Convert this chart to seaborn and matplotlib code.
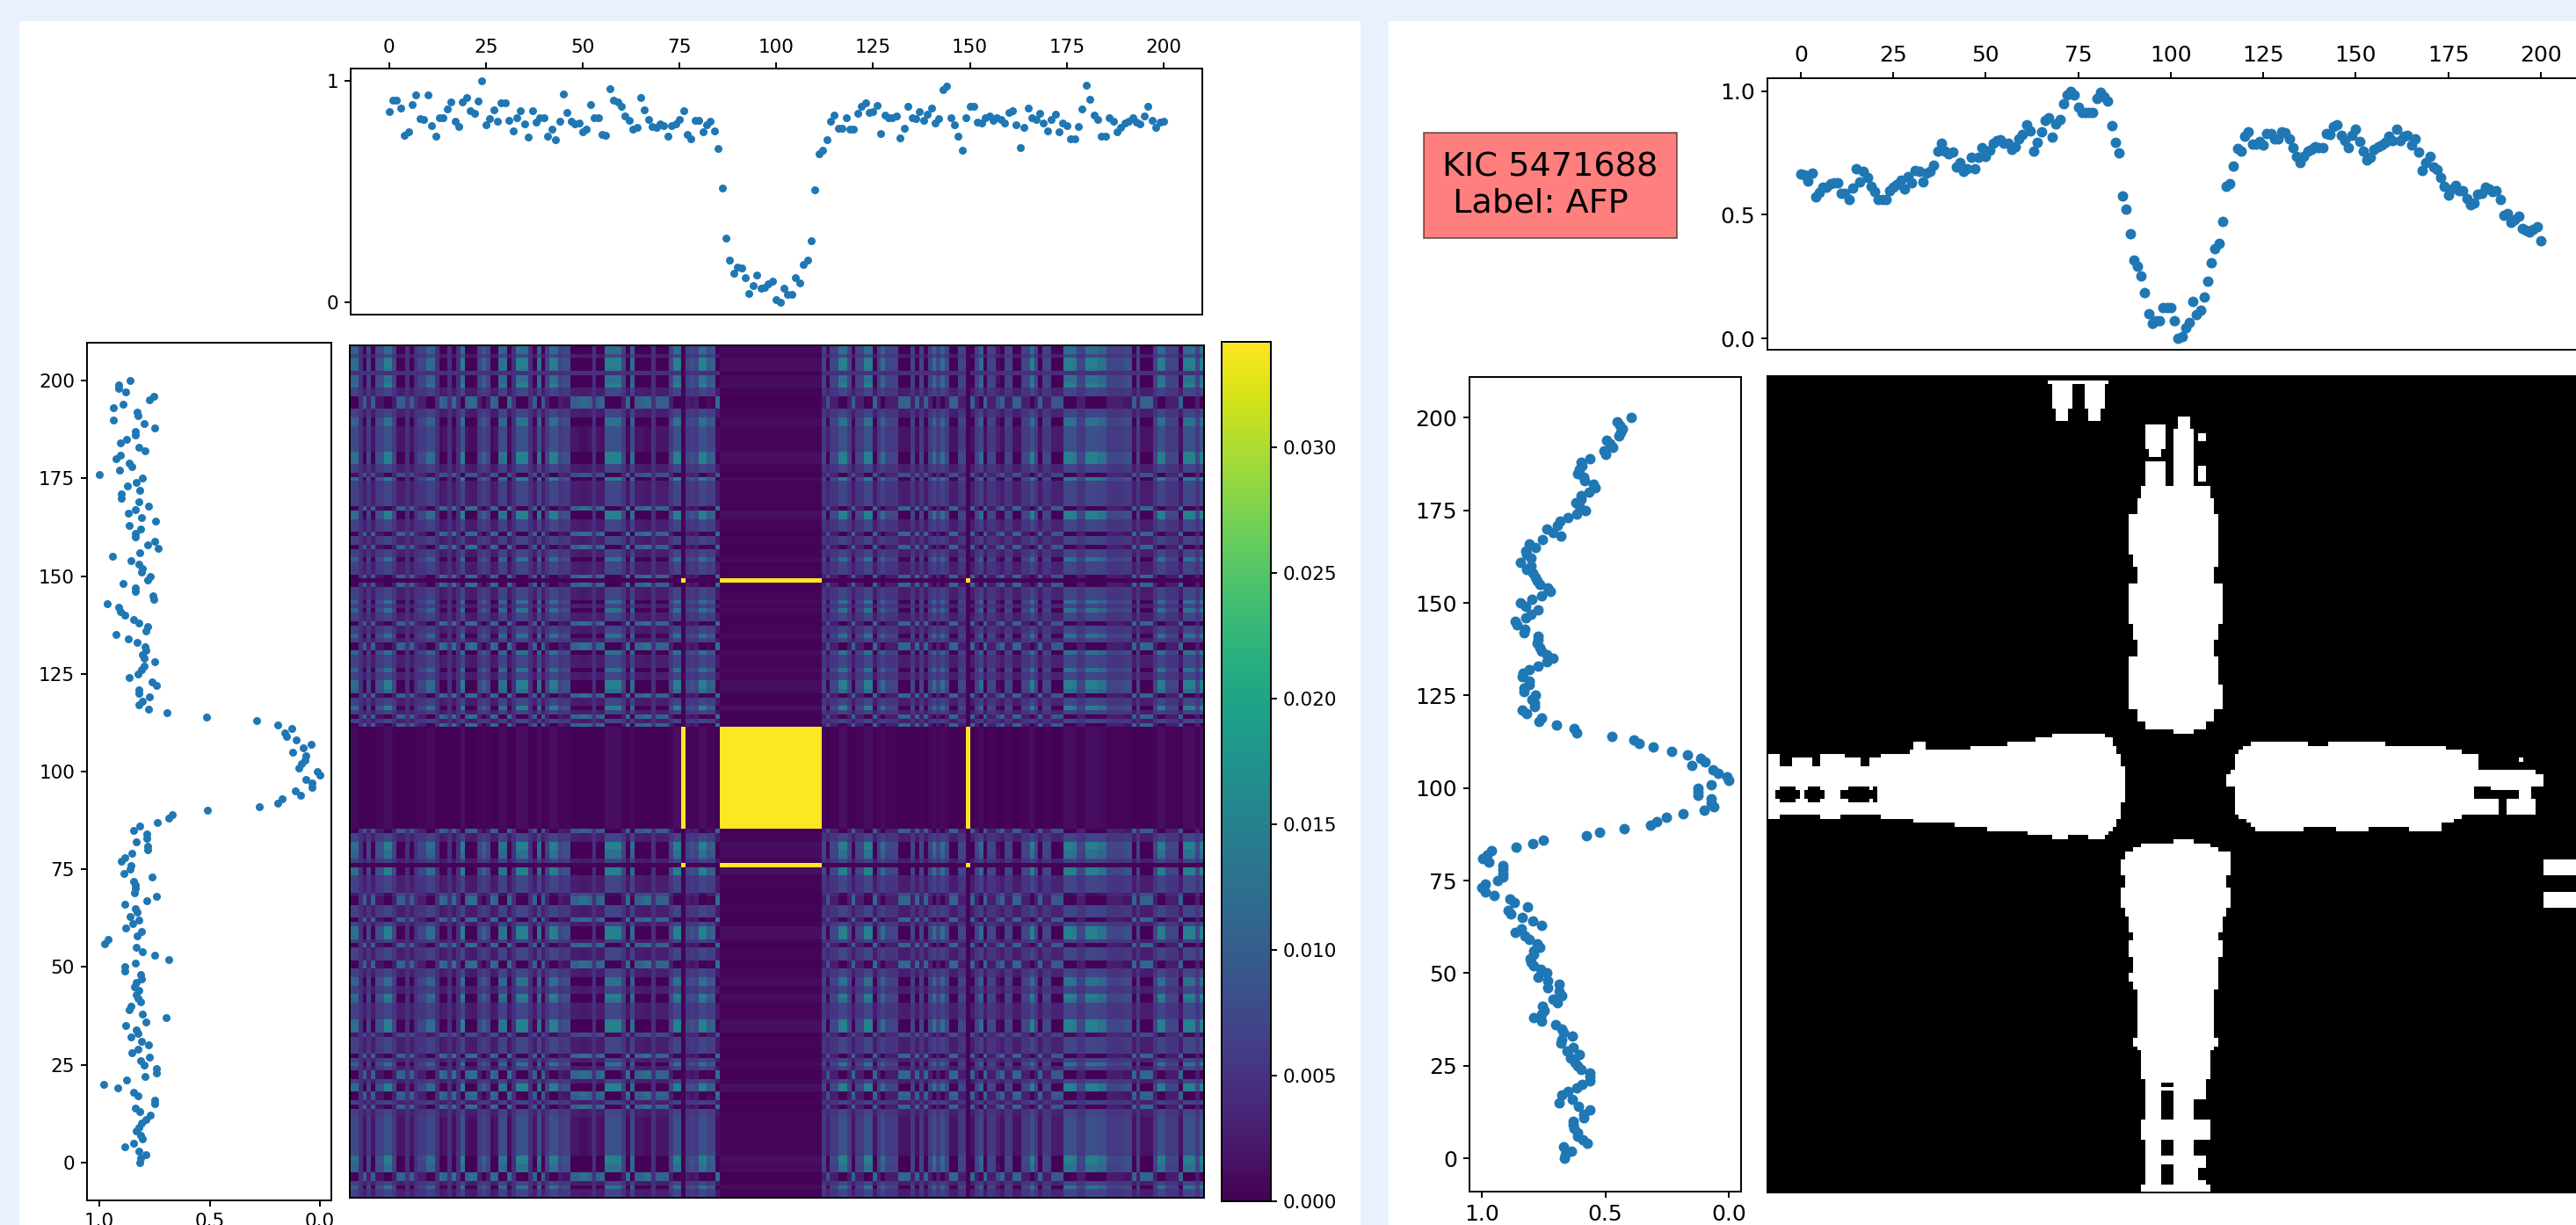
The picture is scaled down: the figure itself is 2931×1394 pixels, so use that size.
import numpy as np
import pandas as pd
import matplotlib
matplotlib.use("Agg")
import matplotlib.pyplot as plt
from matplotlib.patches import Rectangle
import seaborn as sns

W, H = 2931, 1394

# normalised light curve of the left panel
flux_left = [
    .861, .914, .914, .879, .753, .772, .893, .937, .830, .826, .937, .798, .749, .835, .835, .875, .905, .819, .794, .904,
    .923, .865, .854, .909, 1.0, .803, .831, .871, .817, .901, .901, .822, .776, .835, .867, .807, .745, .865, .813, .835,
    .835, .749, .780, .735, .817, .941, .856, .819, .805, .809, .770, .782, .892, .835, .835, .759, .755, .964, .914, .905,
    .884, .843, .821, .781, .790, .923, .869, .827, .794, .790, .806, .798, .749, .798, .807, .826, .865, .760, .740, .822,
    .822, .772, .803, .819, .776, .693, .515, .288, .191, .129, .158, .153, .109, .040, .077, .124, .063, .066, .083, .096,
    .011, 0.0, .063, .036, .036, .112, .087, .172, .191, .276, .509, .669, .687, .736, .817, .844, .785, .785, .834, .781,
    .781, .852, .884, .900, .856, .861, .889, .763, .844, .835, .835, .842, .741, .786, .884, .835, .828, .860, .822, .848,
    .879, .809, .828, .960, .978, .832, .803, .751, .687, .835, .884, .884, .813, .809, .832, .842, .822, .832, .825, .811,
    .858, .865, .803, .697, .790, .879, .834, .826, .855, .809, .776, .826, .851, .772, .811, .798, .740, .740, .794, .875,
    .982, .917, .844, .826, .749, .749, .835, .817, .769, .789, .809, .819, .832, .813, .805, .843, .884, .822, .788, .813,
    .818,
]

# light curve of the right panel (KIC 5471688)
flux_right = [
    .664, .662, .638, .670, .573, .591, .611, .611, .626, .629, .629, .587, .587, .561, .607, .686, .635, .676, .650, .617,
    .595, .563, .563, .563, .599, .611, .623, .641, .605, .655, .629, .680, .676, .632, .670, .676, .702, .757, .789, .757,
    .747, .753, .694, .712, .676, .688, .732, .688, .732, .771, .738, .762, .789, .801, .804, .789, .789, .765, .777, .807,
    .824, .866, .840, .759, .792, .836, .884, .893, .815, .868, .887, .949, .987, 1.0, .987, .935, .913, .916, .916, .916,
    .970, .996, .979, .961, .860, .792, .750, .578, .522, .423, .318, .291, .251, .186, .101, .059, .071, .071, .125, .125,
    .125, .071, 0.0, .006, .042, .065, .148, .097, .115, .166, .231, .305, .364, .386, .474, .614, .626, .698, .767, .757,
    .818, .836, .786, .786, .797, .783, .828, .828, .809, .809, .836, .833, .807, .771, .738, .712, .738, .757, .765, .777,
    .771, .771, .830, .824, .856, .864, .821, .801, .773, .821, .845, .797, .757, .724, .732, .765, .777, .783, .795, .818,
    .801, .845, .801, .818, .821, .783, .807, .753, .680, .712, .738, .694, .682, .650, .614, .581, .605, .619, .599, .599,
    .567, .540, .548, .584, .587, .611, .605, .593, .597, .563, .498, .507, .469, .480, .496, .445, .439, .431, .442, .451,
    .394,
]

# signed strength of each heatmap column and row, read by eye from the texture
col_levels = [
    .6, .6, 0, -.6, .1, -.6, .2, .2, 1, 1, .1, -.6, -.6, 0, -.6, 0, .1, .1, .6, .6,
    0, -.9, -.6, 0, -.9, 0, 1, -.6, -.9, -.9, .1, .4, .1, -.9, -.6, .7, .7, -.9, 0, 1,
    1, 1, 0, -.6, .7, -.5, .1, 1, .9, .1, .2, .2, -.6, -.6, -.9, -.9, -.6, 0, -.6, -.8,
    1, 1, 1, 1, .1, -.9, .6, -.6, -.6, -.9, -.9, 0, -.6, -.6, -.6, .1, 1, 1, -1, .1,
    .2, .1, 1, 1, .3, .4, -.9,
] + [0] * 24 + [
    .1, -.3, .1, .1, 1, 1, .1, -.7, .1, .1, 1, 1, -.7, .1, .6, .1, .1, .1, -.7, -.7,
    -.7, .1, -.7, .1, -.7, .1, .7, .1, .7, .1, -.7, -.7, .1, .1, -1, -.7, .1, .6, -.7, .1,
    .1, -.2, -.7, .1, .1, -.7, -.7, .1, .1, 1, .1, -.7, .1, .1, -.4, -.4, -.4, 1, 1, .9,
    .1, .1, 1, 1, 1, .7, .7, .1, .1, .1, .1, .2, .2, -.7, .1, -.7, -.7, -.7, .1, 1,
    .9, .1, .1, .1, -.7, 1, 1, 1, .1, 1,
]
row_levels = [
    .6, .6, .1, 1, 1, .9, 0, .7, .7, 1, .1, .1, -.6, -.6, -.6, .1, .1, .7, .7, .2,
    .2, .2, .2, .2, .2, 1, 1, 1, .1, .1, -.3, 1, .1, .1, .1, .1, .1, .1, -.7, 1,
    1, .1, .1, .1, -.7, .1, .1, -.7, .1, .1, .7, .1, .1, .1, -.7, -1, -.7, .1, .1, .1,
    .7, .1, .7, .1, .1, -.7, .1, .1, .7, .1, -.7, -.7, .7, .1, .1, .1, .7, .1, .1, 1,
    1, .6, -.7, .1, .1, 1, .1, -.7, .1, -.7,
] + [0] * 24 + [
    -.5, .1, .1, 1, 1, .7, .7, .1, -1, 1, 1, .1, .1, .1, .1, -.2, -.7, -.7, .1, .1,
    .1, -.7, .1, 1, 1, 1, .1, -.7, .1, .1, .1, -.7, -.7, .1, .1, .7, .7, .1, .1, 1,
    .7, .1, .1, .1, .1, 1, 1, 1, -.2, .1, .1, .1, .1, -.7, .1, .7, .1, -.7, -.7, .1,
    1, 1, -.7, -.5, .1, -.7, .1, .1, .2, .2, .2, .2, .2, .2, .2, .2, .2, 1, 1, .7,
    .7, -.7, -.7, .1, .7, .1, .1,
]
dip_cols = list(range(87, 111))
dip_rows = list(range(90, 114))
spike_cols = [78, 145]
spike_rows = [55, 122]

# white blocks of the binary map: first row, last row, first col, last col
white_runs = [
    (1, 1, 69, 83), (2, 7, 70, 74), (2, 7, 78, 82), (7, 10, 71, 73), (7, 10, 79, 81),
    (10, 12, 101, 103), (12, 17, 93, 97), (13, 27, 100, 104), (17, 19, 94, 96), (21, 27, 93, 97),
    (14, 15, 106, 107), (22, 25, 106, 107), (27, 30, 92, 108), (30, 34, 91, 109), (34, 43, 89, 110),
    (43, 46, 90, 110), (46, 51, 91, 109), (51, 60, 89, 111), (60, 64, 90, 110), (64, 69, 91, 109),
    (69, 76, 89, 110), (76, 81, 89, 111), (81, 84, 91, 109), (84, 86, 93, 107), (86, 87, 100, 104),
    (88, 88, 70, 82), (89, 89, 66, 84), (90, 90, 59, 84), (91, 91, 50, 85), (90, 91, 36, 38),
    (92, 92, 35, 85), (93, 93, 28, 86), (93, 95, 13, 18), (93, 95, 0, 2), (94, 95, 25, 86),
    (94, 95, 6, 10), (94, 95, 19, 22), (96, 99, 0, 87), (100, 104, 0, 87), (105, 107, 0, 86),
    (108, 108, 0, 2), (108, 108, 13, 17), (108, 108, 28, 86), (109, 109, 36, 85), (110, 110, 46, 85),
    (111, 111, 54, 84), (112, 112, 64, 83), (113, 113, 70, 73), (113, 113, 79, 82),
    (90, 90, 119, 132), (90, 90, 138, 151), (91, 91, 117, 166), (92, 92, 116, 170), (93, 96, 115, 174),
    (94, 94, 185, 185), (97, 97, 114, 188), (98, 100, 113, 190), (101, 107, 115, 173), (101, 101, 178, 187),
    (102, 103, 185, 187), (104, 107, 174, 179), (104, 107, 182, 188), (108, 108, 116, 170), (109, 109, 118, 168),
    (110, 110, 119, 165), (111, 111, 120, 131), (111, 111, 140, 147), (111, 111, 158, 165),
    (114, 114, 100, 104), (115, 115, 92, 108), (116, 116, 90, 110), (117, 118, 88, 113), (119, 122, 87, 113),
    (123, 125, 88, 112), (126, 130, 87, 113), (131, 132, 88, 112), (133, 136, 89, 111), (137, 138, 90, 110),
    (139, 142, 89, 111), (143, 146, 90, 110), (147, 148, 89, 110), (149, 150, 90, 110), (151, 162, 91, 109),
    (163, 164, 90, 110), (165, 165, 91, 109), (166, 172, 92, 108), (173, 177, 93, 107), (178, 182, 93, 96),
    (178, 182, 100, 104), (183, 187, 92, 108), (188, 191, 93, 96), (188, 191, 100, 104), (192, 198, 93, 107),
    (199, 200, 92, 108), (119, 122, 191, 200), (127, 130, 191, 200),
]
black_runs = [
    (102, 103, 2, 7), (101, 104, 3, 6), (102, 103, 9, 13), (101, 104, 10, 12), (102, 103, 18, 25),
    (101, 104, 20, 24), (101, 104, 26, 26), (174, 174, 97, 99), (176, 177, 97, 99), (194, 198, 97, 99),
    (195, 197, 106, 107),
]

left_ticks = [0, 25, 50, 75, 100, 125, 150, 175, 200]
cbar_ticks = [0.0, 0.005, 0.010, 0.015, 0.020, 0.025, 0.030]
label_text = "KIC 5471688\n Label: AFP"


def px_axes(fig, x0, y0, x1, y1):
    # position given in image pixels, y measured from the top
    return fig.add_axes([x0 / W, 1 - y1 / H, (x1 - x0) / W, (y1 - y0) / H])


def texture_matrix():
    cols = np.array(col_levels)
    rows = np.array(row_levels)
    # weak levels still show up as mottling in the picture, so lift them a bit
    cols_soft = np.sign(cols) * np.abs(cols) ** 0.6
    rows_soft = np.sign(rows) * np.abs(rows) ** 0.6
    m = np.clip(0.0047 + 0.0100 * np.outer(rows_soft, cols_soft), 0.0002, None)
    m[dip_rows, :] = 0.0002 + 0.0011 * np.clip(cols, 0, None)
    m[:, dip_cols] = (0.0002 + 0.0011 * np.clip(rows, 0, None))[:, None]
    m[spike_rows, :] = 0.0003
    m[:, spike_cols] = 0.0003
    m[np.ix_(dip_rows, dip_cols)] = 0.04
    m[np.ix_(spike_rows, dip_cols)] = 0.04
    m[np.ix_(dip_rows, spike_cols)] = 0.04
    m[np.ix_(spike_rows, spike_cols)] = 0.04
    return m


def binary_matrix():
    m = np.zeros((201, 201))
    for r0, r1, c0, c1 in white_runs:
        m[r0:r1 + 1, c0:c1 + 1] = 1
    for r0, r1, c0, c1 in black_runs:
        m[r0:r1 + 1, c0:c1 + 1] = 0
    return m


def style_axes(ax, size):
    for spine in ax.spines.values():
        spine.set_visible(True)
        spine.set_linewidth(1.4)
        spine.set_color("black")
    ax.tick_params(labelsize=size, width=1.4, length=5, pad=5)
    ax.set_xlabel("")
    ax.set_ylabel("")


def top_scatter(ax, flux, marker, size, xlim, ylim, yticks):
    df = pd.DataFrame({"idx": np.arange(len(flux)), "flux": flux})
    sns.scatterplot(data=df, x="idx", y="flux", ax=ax, s=marker, color="#1f77b4", linewidth=0)
    ax.set_xlim(*xlim)
    ax.set_ylim(*ylim)
    ax.xaxis.tick_top()
    ax.set_xticks(left_ticks)
    ax.set_yticks(yticks)
    style_axes(ax, size)


def side_scatter(ax, flux, ypos, marker, size, xlim, ylim):
    df = pd.DataFrame({"pos": ypos, "flux": flux})
    sns.scatterplot(data=df, x="flux", y="pos", ax=ax, s=marker, color="#1f77b4", linewidth=0)
    ax.set_xlim(*xlim)
    ax.set_ylim(*ylim)
    ax.set_xticks([1.0, 0.5, 0.0])
    ax.set_xticklabels(["1.0", "0.5", "0.0"])
    ax.set_yticks(left_ticks)
    style_axes(ax, size)


def make_figure():
    assert len(flux_left) == 201, len(flux_left)
    assert len(flux_right) == 201, len(flux_right)
    assert len(col_levels) == 201, len(col_levels)
    assert len(row_levels) == 201, len(row_levels)

    fig = plt.figure(figsize=(W / 100, H / 100), dpi=100, facecolor="#eaf1fe")
    fig.patches.append(Rectangle((22 / W, 0), 1526 / W, 1 - 24 / H, transform=fig.transFigure,
                                 facecolor="white", edgecolor="none", zorder=-5))
    fig.patches.append(Rectangle((1580 / W, 0), 1351 / W, 1 - 24 / H, transform=fig.transFigure,
                                 facecolor="white", edgecolor="none", zorder=-5))

    # left panel
    ax_top = px_axes(fig, 399, 78, 1368, 358)
    top_scatter(ax_top, flux_left, 42, 15.5, (-9.9, 210), (-0.056, 1.056), [0, 1])

    ax_side = px_axes(fig, 99, 390, 377, 1366)
    ypos = 200 - np.arange(201)
    side_scatter(ax_side, flux_left, ypos, 42, 15.5, (1.056, -0.052), (-9.7, 209.7))

    ax_map = px_axes(fig, 398, 393, 1370, 1363)
    ax_cbar = px_axes(fig, 1390, 389, 1446, 1367)
    sns.heatmap(texture_matrix(), ax=ax_map, cbar_ax=ax_cbar, cmap="viridis", vmin=0, vmax=0.0342,
                xticklabels=False, yticklabels=False, cbar_kws={"ticks": cbar_ticks, "format": "%.3f"})
    style_axes(ax_map, 15.5)
    ax_map.tick_params(length=0)
    ax_cbar.tick_params(labelsize=15.5, width=1.4, length=5, pad=5)
    for spine in ax_cbar.spines.values():
        spine.set_visible(True)
        spine.set_linewidth(1.4)

    # right panel
    ax_top2 = px_axes(fig, 2011, 89, 2933, 398)
    top_scatter(ax_top2, flux_right, 74, 18, (-9, 210), (-0.046, 1.053), [0.0, 0.5, 1.0])
    ax_top2.set_yticklabels(["0.0", "0.5", "1.0"])

    ax_side2 = px_axes(fig, 1672, 429, 1981, 1356)
    side_scatter(ax_side2, flux_right, np.arange(201), 74, 18, (1.05, -0.05), (-9, 211))

    ax_bin = px_axes(fig, 2011, 428, 2940, 1357)
    sns.heatmap(binary_matrix(), ax=ax_bin, cmap=["black", "white"], vmin=0, vmax=1, cbar=False,
                xticklabels=False, yticklabels=False)
    style_axes(ax_bin, 18)
    ax_bin.tick_params(length=0)

    fig.text(1764 / W, 1 - 211 / H, label_text, fontsize=27.5, ha="center", va="center", color="black",
             multialignment="left",
             bbox=dict(facecolor="red", edgecolor="black", alpha=0.5, pad=15, linewidth=1.4))

    fig.savefig("out.png", dpi=100, facecolor=fig.get_facecolor())


if __name__ == "__main__":
    make_figure()
